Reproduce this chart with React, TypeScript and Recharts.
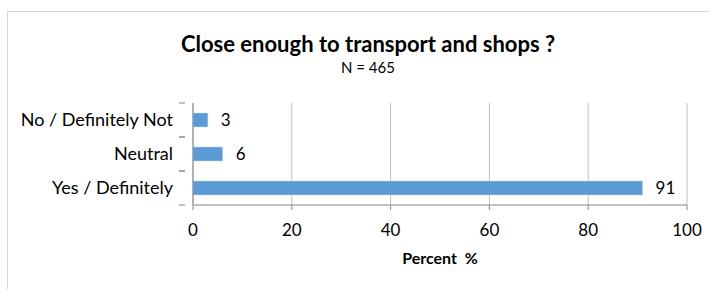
import React from "react";
import { BarChart, Bar, XAxis, YAxis, CartesianGrid, LabelList } from "recharts";

const categories = ["No / Definitely Not", "Neutral", "Yes / Definitely"];
const percents = [3, 6, 91];
const xTicks = [0, 20, 40, 60, 80, 100];

const data = categories.map((name, i) => ({ name, value: percents[i] }));

const FONT = "Lato, 'Open Sans', sans-serif";
const BAND = 34;

function CategoryTick({ x, y, payload }: any) {
  return (
    <g>
      <text x={x - 12} y={y} dy="0.35em" textAnchor="end" fontSize={18} fill="#000" fontFamily={FONT}>
        {payload.value}
      </text>
      <line x1={x - 6} x2={x} y1={y - BAND / 2} y2={y - BAND / 2} stroke="#868686" />
      <line x1={x - 6} x2={x} y1={y + BAND / 2} y2={y + BAND / 2} stroke="#868686" />
    </g>
  );
}

export default function App() {
  return (
    <div style={{ position: "absolute", left: 0, top: 0, width: 709, height: 289, background: "#fff", fontFamily: FONT }}>
      <div style={{ position: "absolute", left: 7, top: 11, width: 740, height: 320, border: "1px solid #d9d9d9" }} />
      <div style={{ position: "absolute", left: 0, top: 30, width: 736, textAlign: "center", fontSize: 22, fontWeight: 700, color: "#000" }}>
        Close enough to transport and shops ?
      </div>
      <div style={{ position: "absolute", left: 0, top: 58, width: 736, textAlign: "center", fontSize: 15, color: "#000" }}>
        N = 465
      </div>
      <div style={{ position: "absolute", left: 0, top: 0 }}>
        <BarChart
          width={709}
          height={289}
          data={data}
          layout="vertical"
          margin={{ top: 103, right: 22, left: 0, bottom: 0 }}
          barCategoryGap={10}
        >
          <CartesianGrid horizontal={false} stroke="#bfbfbf" />
          <XAxis
            type="number"
            domain={[0, 100]}
            ticks={xTicks}
            height={84}
            stroke="#868686"
            tickSize={5}
            tickMargin={14}
            tick={{ fontSize: 17, fill: "#000", fontFamily: FONT }}
            interval={0}
            label={{ value: "Percent\u00a0 %", position: "insideTop", offset: 48, fontSize: 16, fontWeight: 700, fill: "#000", fontFamily: FONT, dx: 0 }}
          />
          <YAxis
            type="category"
            dataKey="name"
            width={193}
            stroke="#868686"
            tickLine={false}
            tick={<CategoryTick />}
            interval={0}
          />
          <Bar dataKey="value" fill="#5b9bd5" stroke="#bdd7ee" strokeWidth={0.5} barSize={14} isAnimationActive={false}>
            <LabelList dataKey="value" position="right" offset={13} fontSize={17} fill="#000" fontFamily={FONT} />
          </Bar>
        </BarChart>
      </div>
    </div>
  );
}
